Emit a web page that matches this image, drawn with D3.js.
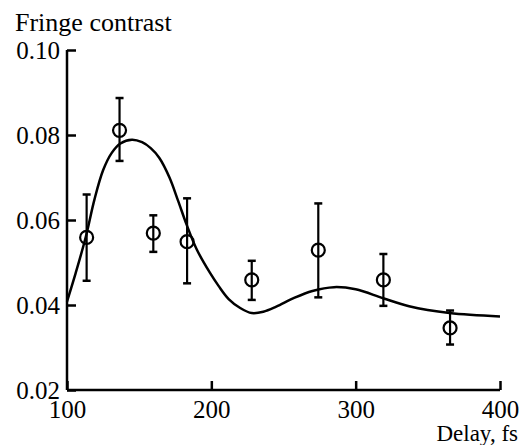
<!DOCTYPE html>
<html>
<head>
<meta charset="utf-8">
<script src="https://cdn.jsdelivr.net/npm/d3@7/dist/d3.min.js"></script>
<style>
  body { margin: 0; background: #fff; }
  svg text { font-family: "Liberation Serif", "Times New Roman", serif; fill: #000; }
</style>
</head>
<body>
<svg id="chart" width="520" height="445"></svg>
<script>
// measured points
const delay = [113.6, 136.4, 159.8, 183.2, 228, 274.1, 319.2, 365.4];
const contrast = [0.0559, 0.0811, 0.0569, 0.0549, 0.0459, 0.0529, 0.0459, 0.0346];
const errLow = [0.0457, 0.0739, 0.0525, 0.0451, 0.0412, 0.0418, 0.0398, 0.0307];
const errHigh = [0.0660, 0.0887, 0.0611, 0.0651, 0.0504, 0.0639, 0.0520, 0.0387];

// fitted curve
const fitDelay = [100, 106, 113, 119, 125, 131, 137, 145, 152, 158, 164, 171, 177, 183, 190, 199, 205, 212, 220, 228, 236, 245, 257, 270, 285, 300, 319, 337, 365, 400];
const fitValue = [0.0408, 0.0475, 0.0560, 0.0648, 0.0717, 0.0758, 0.0780, 0.0789, 0.0783, 0.0769, 0.0746, 0.0700, 0.0645, 0.0588, 0.0530, 0.0476, 0.0445, 0.0414, 0.0393, 0.0381, 0.0384, 0.0396, 0.0416, 0.0433, 0.0442, 0.0437, 0.0416, 0.0397, 0.0381, 0.0373];

const xTicks = [100, 200, 300, 400];
const yTicks = [0.02, 0.04, 0.06, 0.08, 0.10];

const svg = d3.select("#chart");
const x = d3.scaleLinear().domain([100, 400]).range([67, 500]);
const y = d3.scaleLinear().domain([0.02, 0.10]).range([390, 50]);

// axes
const xAxis = svg.append("g").attr("transform", "translate(0,390)")
    .call(d3.axisBottom(x).tickValues(xTicks).tickSize(-9).tickPadding(10).tickFormat(d3.format("d")));
const yAxis = svg.append("g").attr("transform", "translate(67,0)")
    .call(d3.axisLeft(y).tickValues(yTicks).tickSize(-9).tickPadding(7).tickFormat(d3.format(".2f")));

[xAxis, yAxis].forEach(a => {
    a.select(".domain").attr("stroke", "#000").attr("stroke-width", 2.5);
    a.selectAll(".tick line").attr("stroke", "#000").attr("stroke-width", 2.5);
    a.selectAll("text").style("font-size", "25px").attr("font-family", null);
});
xAxis.select(".domain").attr("d", "M67,0H500");
yAxis.select(".domain").attr("d", "M0,390V50");

// fit line
const fit = fitDelay.map((d, i) => [d, fitValue[i]]);
svg.append("path")
    .datum(fit)
    .attr("fill", "none")
    .attr("stroke", "#000")
    .attr("stroke-width", 2.5)
    .attr("d", d3.line().x(d => x(d[0])).y(d => y(d[1])).curve(d3.curveCatmullRom));

// error bars
const pts = svg.append("g");
delay.forEach((d, i) => {
    const cx = x(d);
    pts.append("line").attr("x1", cx).attr("x2", cx)
        .attr("y1", y(errLow[i])).attr("y2", y(errHigh[i]))
        .attr("stroke", "#000").attr("stroke-width", 2.2);
    [errLow[i], errHigh[i]].forEach(v => {
        pts.append("line").attr("x1", cx - 4).attr("x2", cx + 4)
            .attr("y1", y(v)).attr("y2", y(v))
            .attr("stroke", "#000").attr("stroke-width", 2.5);
    });
    pts.append("circle").attr("cx", cx).attr("cy", y(contrast[i])).attr("r", 6.5)
        .attr("fill", "none").attr("stroke", "#000").attr("stroke-width", 2.2);
});

// labels
svg.append("text").attr("x", 15).attr("y", 31).style("font-size", "26px").text("Fringe contrast");
svg.append("text").attr("x", 518).attr("y", 441).attr("text-anchor", "end").style("font-size", "23px").text("Delay, fs");
</script>
</body>
</html>
